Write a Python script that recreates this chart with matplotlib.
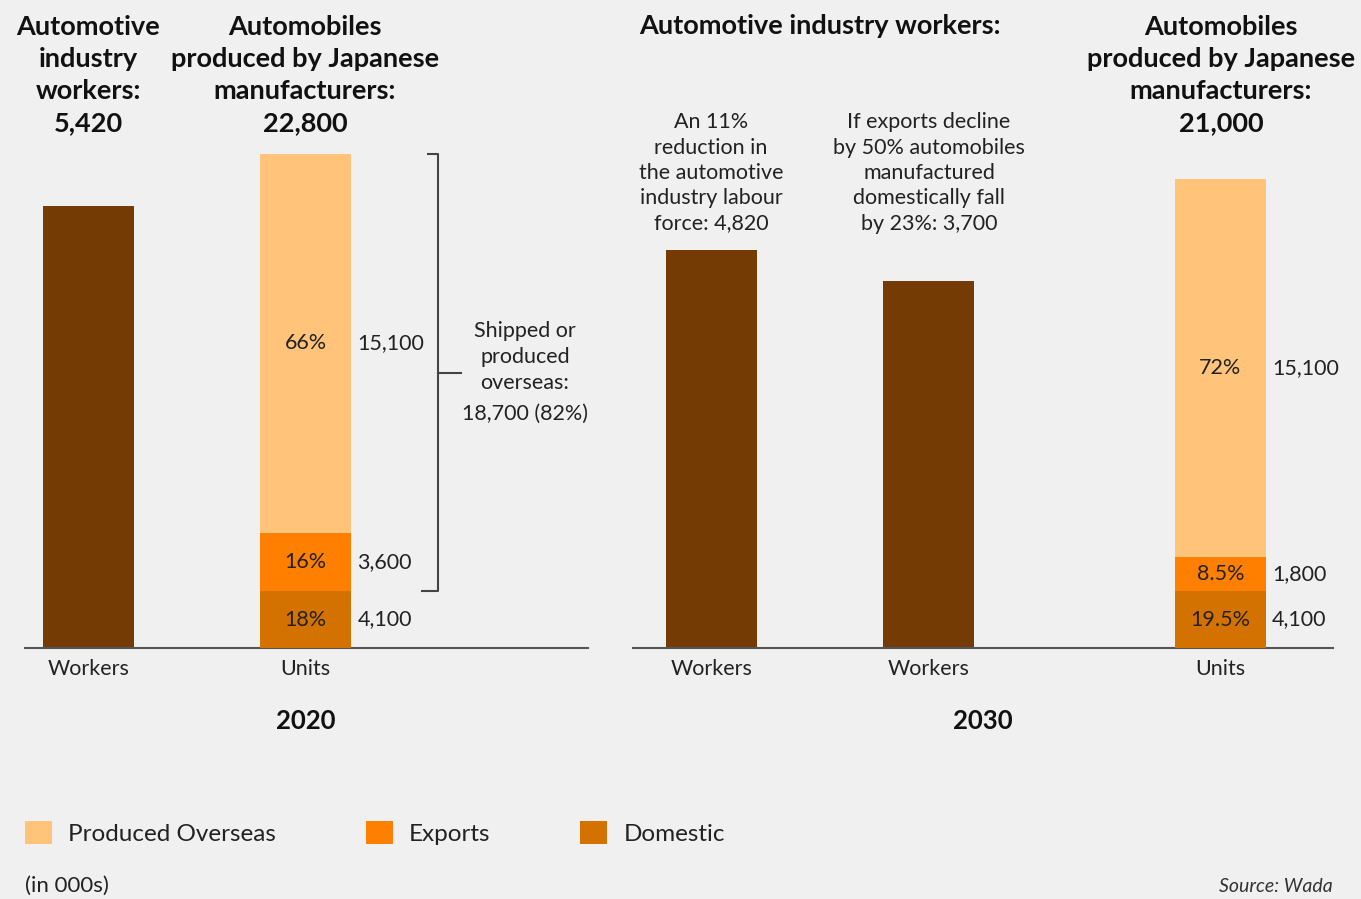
import matplotlib.pyplot as plt
from matplotlib.patches import Patch

# --- dati (in migliaia) ---
segments = ['Produced Overseas', 'Exports', 'Domestic']
seg_colors = ['#ffc47a', '#ff8000', '#d47200']
worker_color = '#743b05'

workers_2020 = 5420
units_total_2020 = 22800
# altezze disegnate dei segmenti (Domestic, Exports, Overseas)
units_drawn_2020 = [2630, 2680, 17490]
units_labels_2020 = ['4,100', '3,600', '15,100']
units_pct_2020 = ['18%', '16%', '66%']

# altezze disegnate delle barre lavoratori 2030
workers_2030 = [4880, 4500]
units_total_2030 = 21000
units_drawn_2030 = [2630, 1570, 17440]
units_labels_2030 = ['4,100', '1,800', '15,100']
units_pct_2030 = ['19.5%', '8.5%', '72%']

cat_2020 = ['Workers', 'Units']
cat_2030 = ['Workers', 'Workers', 'Units']
pos_2020 = [0, 1]
pos_2030 = [0, 1, 2.345]

notes_2030 = ['An 11%\nreduction in\nthe automotive\nindustry labour\nforce: 4,820',
              'If exports decline\nby 50% automobiles\nmanufactured\ndomestically fall\nby 23%: 3,700']

W, H = 1361, 899
BG = '#f0f0f0'
plt.rcParams['font.family'] = ['Lato', 'DejaVu Sans']

fig = plt.figure(figsize=(W / 100, H / 100), dpi=100, facecolor=BG)


def fx(px):
    return px / W


def fy(py):
    return 1 - py / H


base, top = 648, 100
w_max = (base - top) / 442 * workers_2020
u_max = (base - top) / 494 * units_total_2020
bw = 0.42


def make_panel(left, width, xlim, cats, pos):
    ax = fig.add_axes([fx(left), fy(base), width / W, (base - top) / H])
    ax.set_facecolor('none')
    ax.set_xlim(*xlim)
    ax.set_ylim(0, w_max)
    for s in ['top', 'right', 'left']:
        ax.spines[s].set_visible(False)
    ax.spines['bottom'].set_color('#555555')
    ax.spines['bottom'].set_linewidth(1.5)
    ax.set_yticks([])
    ax.set_xticks(pos)
    ax.set_xticklabels(cats, fontsize=15.5, color='#222222')
    ax.tick_params(axis='x', length=0, pad=8)
    ax2 = ax.twinx()
    ax2.set_ylim(0, u_max)
    ax2.axis('off')
    return ax, ax2


def stack_units(ax2, x, drawn, labels, pcts):
    bottom = 0
    for h, c, lab, pct in zip(drawn, seg_colors[::-1], labels, pcts):
        ax2.bar(x, h, bottom=bottom, width=bw, color=c, linewidth=0)
        mid = bottom + h / 2
        ax2.text(x, mid, pct, ha='center', va='center', fontsize=15.5, color='#222222')
        ax2.text(x + bw / 2 + 0.028, mid, lab, ha='left', va='center', fontsize=15.5, color='#222222')
        bottom += h


# 2020
axL, axL2 = make_panel(25, 563, (-0.293, 2.30), cat_2020, pos_2020)
axL.bar(pos_2020[0], workers_2020, width=bw, color=worker_color, linewidth=0)
stack_units(axL2, pos_2020[1], units_drawn_2020, units_labels_2020, units_pct_2020)

# parentesi "shipped or produced overseas"
y_top = sum(units_drawn_2020)
y_bot = units_drawn_2020[0]
xb = 1.61
axL2.plot([xb - 0.05, xb, xb, xb - 0.08], [y_top, y_top, y_bot, y_bot],
          color='#444444', lw=1.5, solid_capstyle='butt')
y_mid = (y_top + y_bot) / 2
axL2.plot([xb, xb + 0.105], [y_mid, y_mid], color='#444444', lw=1.5)
fig.text(fx(525), fy(357), 'Shipped or\nproduced\noverseas:', ha='center', va='center',
         fontsize=15.5, color='#222222', linespacing=1.38)
fig.text(fx(525), fy(414), '18,700 (82%)', ha='center', va='center',
         fontsize=15.5, color='#222222')

# 2030
axR, axR2 = make_panel(633, 700, (-0.362, 2.864), cat_2030, pos_2030)
axR.bar(pos_2030[:2], workers_2030, width=bw, color=worker_color, linewidth=0)
stack_units(axR2, pos_2030[2], units_drawn_2030, units_labels_2030, units_pct_2030)

# titoli
hd = dict(ha='center', va='center', fontsize=19.5, fontweight='bold', color='#111111', linespacing=1.4)
fig.text(fx(88), fy(75), f'Automotive\nindustry\nworkers:\n{workers_2020:,}', **hd)
fig.text(fx(305), fy(75), f'Automobiles\nproduced by Japanese\nmanufacturers:\n{units_total_2020:,}', **hd)
fig.text(fx(820), fy(26), 'Automotive industry workers:', **hd)
fig.text(fx(1221), fy(75), f'Automobiles\nproduced by Japanese\nmanufacturers:\n{units_total_2030:,}', **hd)

for xp, note in zip([711, 929], notes_2030):
    fig.text(fx(xp), fy(173), note, ha='center', va='center', fontsize=15.5,
             color='#222222', linespacing=1.33)

fig.text(fx(306), fy(721), '2020', ha='center', va='center', fontsize=18.5, fontweight='bold', color='#111111')
fig.text(fx(983), fy(721), '2030', ha='center', va='center', fontsize=18.5, fontweight='bold', color='#111111')

# legenda
handles = [Patch(facecolor=c, edgecolor='none') for c in seg_colors]
fig.legend(handles, segments, loc='center left', bbox_to_anchor=(fx(25), fy(833)),
           ncol=3, frameon=False, fontsize=17.5, handlelength=1.11, handleheight=1.11,
           handletextpad=0.66, columnspacing=3.7, borderpad=0, borderaxespad=0,
           labelcolor='#222222')

fig.text(fx(25), fy(886), '(in 000s)', ha='left', va='center', fontsize=16, color='#222222')
fig.text(fx(1333), fy(887), 'Source: Wada', ha='right', va='center', fontsize=14,
         style='italic', color='#333333')

fig.savefig('out.png', dpi=100, facecolor=BG)
